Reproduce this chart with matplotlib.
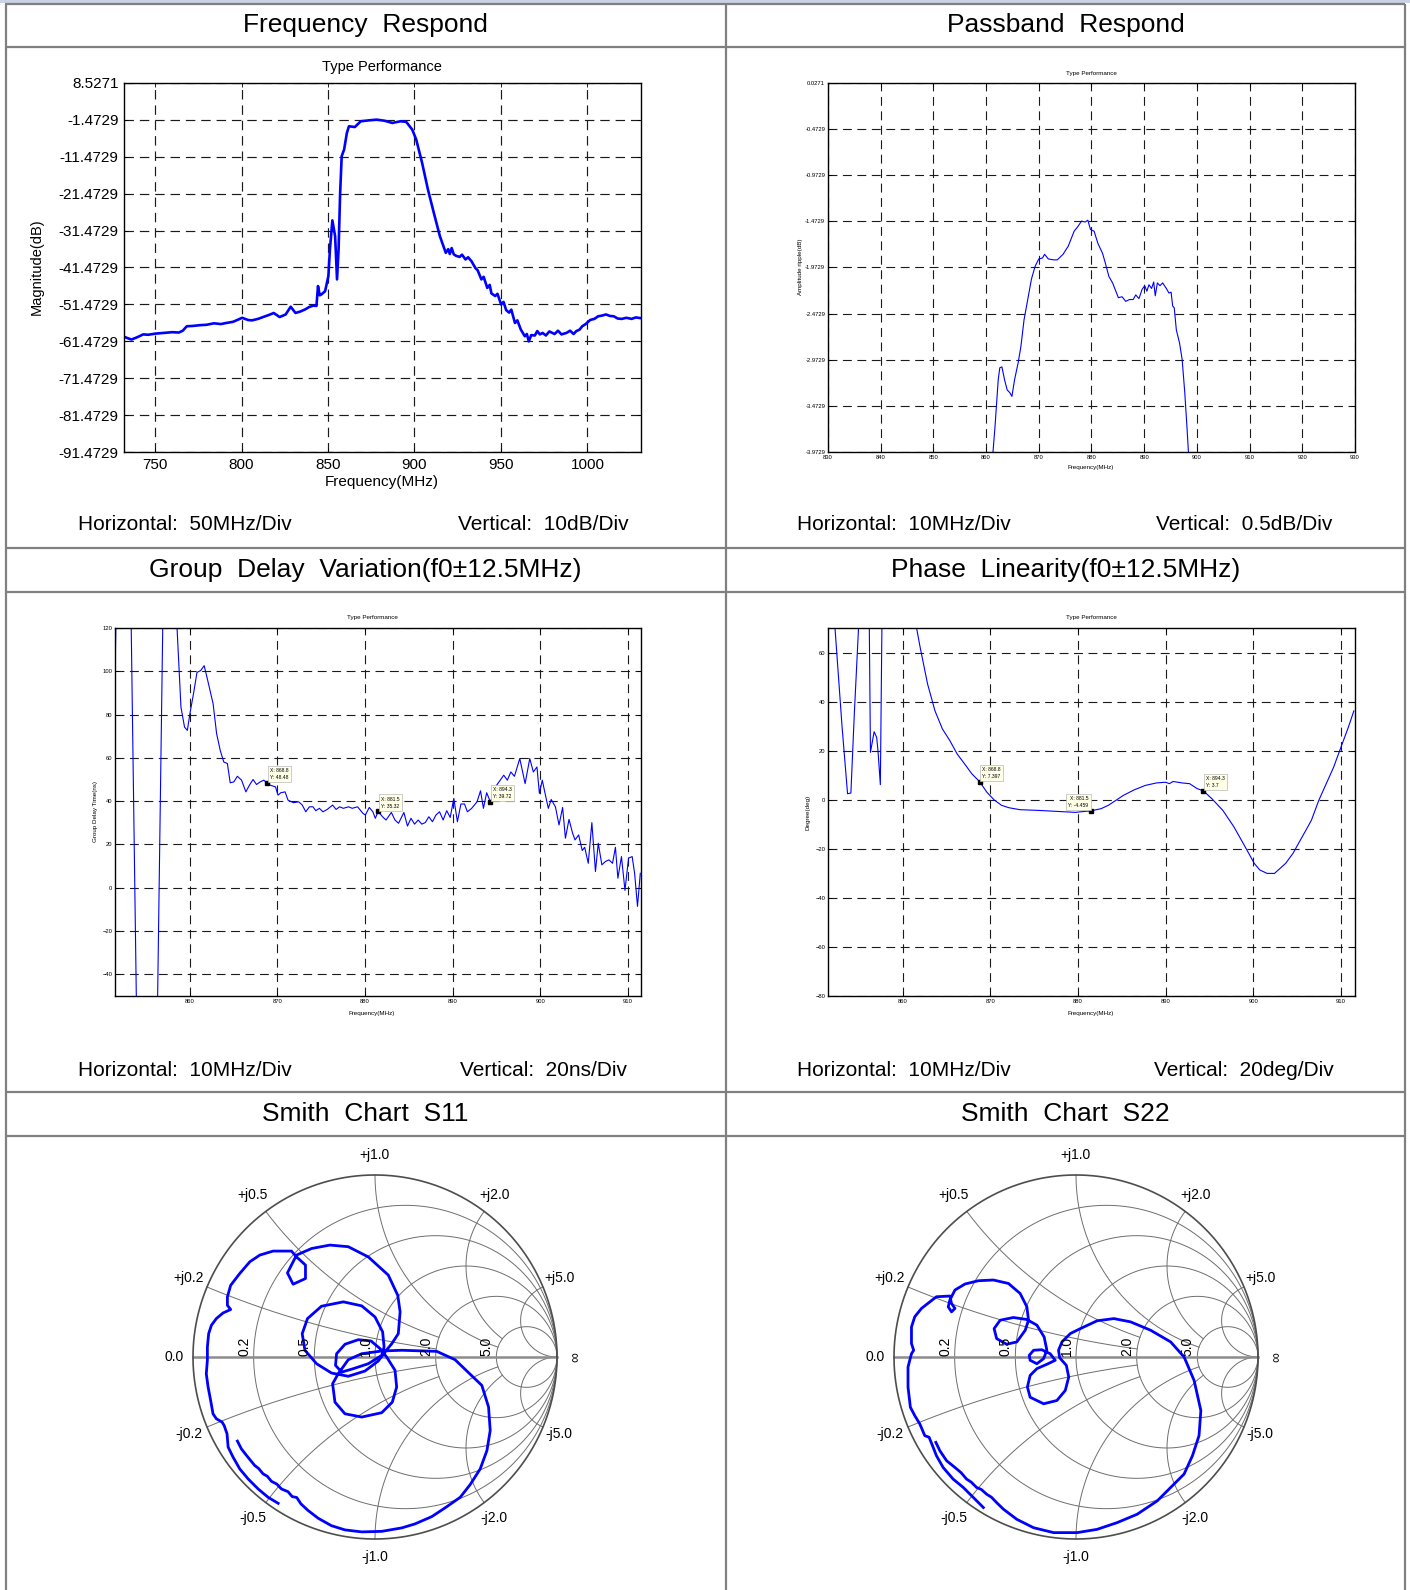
import numpy as np
import matplotlib
matplotlib.use("Agg")
import matplotlib.pyplot as plt

plt.rcParams['font.family'] = ['Liberation Sans', 'DejaVu Sans']

# ---------------- data ----------------
FREQ_RESP = [(731.7, -60.2), (736.3, -61.0), (740, -60.3), (743.1, -59.6), (746, -59.7), (750, -59.4),
             (755, -59.2), (760, -59.0), (763.7, -59.1), (766, -58.6), (768.3, -57.4), (772, -57.3),
             (776, -57.1), (779.7, -57.0), (784, -56.6), (788, -56.8), (791.2, -56.5), (795, -56.2),
             (798, -55.6), (800.3, -55.1), (803.7, -55.7), (806, -55.8), (809.5, -55.4), (813, -54.8),
             (816, -54.3), (818.6, -53.8), (822.0, -54.9), (825.5, -54.2), (828.4, -52.1), (831.2, -53.8),
             (834, -53.4), (836.9, -52.8), (839, -52.2), (841.5, -51.8), (843.3, -51.9), (844.2, -46.5),
             (845.2, -49.0), (846.1, -48.8), (848.3, -47.9), (850.2, -43.8), (851.1, -36.6), (852.5, -28.7),
             (854.1, -33.0), (855.2, -44.7), (856.1, -36.6), (857.0, -21.3), (857.9, -11.3), (859.3, -9.5),
             (860.9, -5.0), (862.1, -3.2), (865.5, -3.4), (868.9, -1.85), (873.5, -1.6), (878.1, -1.4),
             (882.7, -1.7), (887.2, -2.3), (891.8, -1.85), (895.2, -2.0), (898.7, -4.1), (901.0, -6.8),
             (904.4, -13.1), (907.8, -20.4), (911.2, -26.7), (914.7, -33.0), (918.1, -37.5), (919.5, -36.5),
             (920.4, -37.8), (921.5, -36.2), (922.7, -37.9), (924, -38.3), (926.1, -38.6), (927.5, -38.0),
             (929.5, -39.3), (931, -38.7), (933.0, -39.8), (935.2, -41.6), (936.5, -42.2), (938.7, -44.7),
             (940, -44.0), (942.1, -47.0), (943.5, -46.2), (944.5, -48.5), (946.7, -49.2), (948, -48.6),
             (950.1, -51.5), (951.5, -50.8), (953, -53.0), (954.7, -53.7), (956, -52.9), (958.1, -56.5),
             (959.5, -55.8), (961.5, -58.3), (963.8, -60.1), (965, -59.5), (966.1, -61.5), (967.5, -59.8),
             (969.6, -59.9), (971, -58.7), (972.5, -59.6), (974.1, -59.2), (976, -59.9), (978, -58.8),
             (981.0, -59.5), (983, -58.6), (985, -59.6), (987.9, -59.2), (990, -58.6), (992, -59.5),
             (993.6, -58.7), (995.5, -58.3), (997.0, -57.4), (999, -56.8), (1001.6, -55.7), (1004, -55.4),
             (1006.2, -54.7), (1008.5, -54.5), (1010.7, -54.2), (1013, -54.6), (1015.3, -54.7), (1017.5, -55.3),
             (1019.9, -55.4), (1022.5, -55.1), (1025.6, -55.4), (1028, -55.0), (1030.8, -55.2)]

PASSBAND = [(861.2, -4.05), (861.7, -3.69), (862.3, -3.19), (862.6, -3.06), (863.0, -3.05), (863.5, -3.19),
            (864.0, -3.30), (864.5, -3.33), (864.9, -3.37), (865.4, -3.19), (866.1, -3.00), (866.6, -2.83),
            (867.2, -2.54), (867.9, -2.32), (868.6, -2.10), (869.3, -1.96), (870.0, -1.88), (870.7, -1.87),
            (871.1, -1.83), (871.8, -1.88), (872.8, -1.89), (873.5, -1.89), (874.6, -1.83), (875.6, -1.74),
            (876.7, -1.58), (877.4, -1.53), (878.1, -1.47), (878.8, -1.48), (879.3, -1.46), (879.8, -1.56),
            (880.5, -1.58), (881.2, -1.71), (882.1, -1.82), (882.6, -1.92), (883.3, -2.07), (884.0, -2.14),
            (885.1, -2.30), (885.8, -2.29), (886.5, -2.34), (887.2, -2.32), (887.9, -2.32), (888.4, -2.27),
            (889.0, -2.31), (889.6, -2.21), (890.1, -2.17), (890.5, -2.23), (890.9, -2.16), (891.4, -2.20),
            (891.8, -2.13), (892.1, -2.28), (892.5, -2.14), (893.0, -2.17), (893.5, -2.14), (894.2, -2.20),
            (894.7, -2.25), (895.1, -2.24), (895.4, -2.39), (895.7, -2.41), (896.1, -2.65), (896.7, -2.79),
            (897.2, -2.97), (897.7, -3.33), (898.1, -3.69), (898.4, -3.98), (898.6, -4.16)]

GROUP_DELAY = [(851.45, 96.0), (851.6, 135), (853.25, 135), (853.9, -55), (856.3, -55), (856.95, 135),
               (858.35, 135), (858.98, 83.4), (859.39, 74.2), (859.71, 72.7), (860.0, 80.4), (860.41, 89.6),
               (860.81, 99.5), (861.22, 100.3), (861.63, 102.6), (862.04, 95.7), (862.65, 85.0), (863.05, 71.2),
               (863.46, 63.5), (863.87, 58.1), (864.28, 57.4), (864.60, 48.5), (865.01, 48.9), (865.42, 51.5),
               (865.90, 49.7), (866.39, 44.3), (866.80, 47.4), (867.21, 50.0), (867.61, 47.7), (868.02, 48.9),
               (868.43, 49.7), (868.8, 48.48), (869.16, 47.4), (869.77, 46.6), (870.06, 42.8), (870.38, 43.9),
               (870.87, 44.3), (871.20, 40.5), (871.81, 39.3), (872.42, 39.7), (872.83, 38.2), (873.23, 35.1),
               (873.64, 37.4), (874.05, 37.4), (874.37, 35.6), (874.78, 36.7), (875.19, 35.1), (875.68, 36.2),
               (876.29, 38.2), (876.69, 36.2), (877.10, 37.4), (877.51, 36.7), (878.12, 37.4), (878.53, 36.7),
               (879.14, 37.4), (879.75, 34.4), (880.03, 33.6), (880.48, 37.1), (880.89, 35.1), (881.17, 32.1),
               (881.5, 35.32), (881.99, 32.8), (882.39, 31.3), (883.00, 34.8), (883.41, 31.3), (883.82, 29.8),
               (884.43, 34.8), (884.84, 28.5), (885.24, 32.1), (885.65, 29.4), (886.06, 31.3), (886.47, 29.4),
               (886.87, 30.1), (887.28, 32.8), (887.69, 30.5), (888.09, 33.6), (888.50, 35.1), (888.91, 31.3),
               (889.32, 35.6), (889.72, 32.5), (890.13, 41.3), (890.54, 30.5), (890.94, 38.7), (891.35, 38.7),
               (891.68, 35.1), (892.17, 36.7), (892.78, 39.7), (893.18, 44.8), (893.51, 36.7), (893.88, 43.9),
               (894.3, 39.72), (894.61, 42.0), (895.02, 47.4), (895.42, 49.7), (895.83, 52.0), (896.24, 49.7),
               (896.64, 53.5), (897.05, 51.5), (897.66, 59.7), (898.27, 48.1), (898.80, 59.7), (899.21, 53.5),
               (899.62, 55.8), (899.90, 43.6), (900.23, 49.7), (900.51, 44.3), (900.92, 36.7), (901.25, 40.8),
               (901.73, 37.4), (902.14, 29.0), (902.55, 37.1), (902.87, 22.9), (903.28, 31.6), (903.69, 25.2),
               (903.97, 22.1), (904.38, 24.4), (904.79, 17.2), (905.07, 18.7), (905.48, 11.3), (905.89, 30.1),
               (906.30, 7.5), (906.62, 20.6), (907.03, 10.6), (907.43, 12.1), (907.84, 12.9), (908.25, 11.3),
               (908.58, 18.7), (908.86, 4.4), (909.27, 14.4), (909.67, -1.2), (910.08, 13.7), (910.49, 14.4),
               (910.77, 6.7), (911.10, -8.6), (911.42, 6.7)]

PHASE = [(852.2, 75), (853.1, 30), (853.73, 2.5), (854.11, 2.8), (854.5, 35), (855.05, 75), (856.2, 75),
         (856.34, 19.4), (856.76, 27.8), (857.05, 25.5), (857.2, 20.0), (857.47, 6.2), (857.66, 75), (861.5, 75),
         (861.60, 70.1), (862.02, 62.0), (862.86, 47.2), (863.70, 36.3), (864.55, 28.9), (865.39, 24.2),
         (866.23, 18.7), (867.07, 14.7), (867.91, 10.6), (868.8, 7.397), (869.60, 3.2), (870.44, 0.0),
         (871.28, -2.2), (872.12, -3.2), (873.38, -4.0), (875.49, -4.3), (877.59, -4.7), (879.70, -5.1),
         (881.5, -4.459), (882.64, -3.6), (883.48, -2.2), (884.33, -0.2), (885.17, 1.8), (886.43, 4.1),
         (887.69, 5.9), (888.96, 6.9), (890.01, 7.2), (890.43, 6.6), (890.85, 7.5), (891.90, 6.9), (892.74, 6.6),
         (893.59, 4.6), (894.3, 3.7), (895.27, 0.5), (896.53, -4.3), (897.79, -11.0), (898.64, -16.4),
         (899.48, -21.8), (900.11, -25.9), (900.74, -28.6), (901.58, -30.0), (902.42, -30.0), (902.85, -28.6),
         (903.69, -25.9), (904.53, -21.8), (905.37, -16.4), (906.00, -12.4), (906.63, -8.3), (907.47, -0.2),
         (908.32, 6.6), (909.16, 13.3), (910.00, 21.5), (910.84, 29.6), (911.47, 36.3)]

GD_TIPS = [(868.8, 48.48, "X: 868.8\nY: 48.48"), (881.5, 35.32, "X: 881.5\nY: 35.32"),
           (894.3, 39.72, "X: 894.3\nY: 39.72")]
PH_TIPS = [(868.8, 7.397, "X: 868.8\nY: 7.397"), (881.5, -4.459, "X: 881.5\nY: -4.459"),
           (894.3, 3.7, "X: 894.3\nY: 3.7")]

S11 = [(-0.532, -0.804), (-0.587, -0.771), (-0.642, -0.725), (-0.697, -0.670), (-0.743, -0.615),
       (-0.780, -0.550), (-0.807, -0.495), (-0.813, -0.422), (-0.829, -0.376), (-0.840, -0.358),
       (-0.872, -0.339), (-0.890, -0.312), (-0.903, -0.239), (-0.917, -0.165), (-0.927, -0.092),
       (-0.921, -0.018), (-0.921, 0.055), (-0.914, 0.128), (-0.899, 0.174), (-0.872, 0.211),
       (-0.835, 0.242), (-0.793, 0.261), (-0.811, 0.284), (-0.811, 0.330), (-0.793, 0.394),
       (-0.743, 0.459), (-0.688, 0.523), (-0.633, 0.560), (-0.560, 0.582), (-0.459, 0.582),
       (-0.431, 0.550), (-0.382, 0.505), (-0.382, 0.431), (-0.450, 0.400), (-0.481, 0.462),
       (-0.450, 0.523), (-0.431, 0.560), (-0.349, 0.596), (-0.248, 0.615), (-0.147, 0.606),
       (-0.037, 0.550), (0.073, 0.450), (0.125, 0.339), (0.138, 0.248), (0.128, 0.128),
       (0.092, 0.073), (0.059, 0.033), (0.018, -0.022), (-0.055, -0.077), (-0.147, -0.106),
       (-0.239, -0.088), (-0.321, -0.037), (-0.385, 0.037), (-0.400, 0.128), (-0.371, 0.211),
       (-0.294, 0.279), (-0.174, 0.303), (-0.073, 0.281), (0.0, 0.220), (0.042, 0.138),
       (0.050, 0.055), (0.037, 0.009), (-0.037, -0.037), (-0.119, -0.064), (-0.183, -0.083),
       (-0.217, -0.046), (-0.211, 0.018), (-0.165, 0.070), (-0.092, 0.095), (-0.022, 0.088),
       (0.028, 0.046), (0.064, 0.0), (0.110, -0.073), (0.119, -0.165), (0.095, -0.248),
       (0.037, -0.306), (-0.073, -0.330), (-0.165, -0.312), (-0.220, -0.248), (-0.233, -0.147),
       (-0.202, -0.092), (-0.147, -0.015), (-0.073, 0.018), (0.037, 0.033), (0.147, 0.037),
       (0.339, 0.031), (0.440, -0.015), (0.514, -0.086), (0.587, -0.156), (0.624, -0.275),
       (0.633, -0.404), (0.615, -0.514), (0.578, -0.615), (0.523, -0.701), (0.468, -0.771),
       (0.385, -0.829), (0.312, -0.877), (0.220, -0.917), (0.147, -0.939), (0.037, -0.958),
       (-0.073, -0.961), (-0.165, -0.950), (-0.239, -0.927), (-0.312, -0.886), (-0.367, -0.844),
       (-0.407, -0.807), (-0.430, -0.772), (-0.455, -0.767), (-0.478, -0.740), (-0.514, -0.725),
       (-0.540, -0.698), (-0.569, -0.683), (-0.592, -0.655), (-0.615, -0.642), (-0.640, -0.612),
       (-0.661, -0.596), (-0.701, -0.547), (-0.734, -0.505), (-0.756, -0.462)]

S22 = [(-0.509, -0.827), (-0.564, -0.772), (-0.619, -0.717), (-0.675, -0.671), (-0.730, -0.607),
       (-0.767, -0.542), (-0.785, -0.496), (-0.807, -0.441), (-0.831, -0.432), (-0.858, -0.368),
       (-0.886, -0.322), (-0.910, -0.276), (-0.923, -0.165), (-0.923, -0.055), (-0.904, 0.018),
       (-0.892, 0.037), (-0.904, 0.074), (-0.904, 0.165), (-0.886, 0.221), (-0.849, 0.267),
       (-0.767, 0.331), (-0.693, 0.335), (-0.684, 0.294), (-0.665, 0.267), (-0.684, 0.248),
       (-0.702, 0.276), (-0.693, 0.313), (-0.665, 0.368), (-0.610, 0.401), (-0.537, 0.419),
       (-0.454, 0.423), (-0.371, 0.404), (-0.307, 0.349), (-0.270, 0.276), (-0.261, 0.202),
       (-0.279, 0.147), (-0.325, 0.083), (-0.381, 0.070), (-0.436, 0.101), (-0.450, 0.156),
       (-0.417, 0.202), (-0.344, 0.217), (-0.270, 0.206), (-0.215, 0.175), (-0.175, 0.110),
       (-0.160, 0.037), (-0.178, -0.009), (-0.215, -0.037), (-0.252, -0.018), (-0.257, 0.009),
       (-0.233, 0.037), (-0.188, 0.040), (-0.142, 0.018), (-0.114, -0.018), (-0.160, -0.040),
       (-0.215, -0.064), (-0.252, -0.101), (-0.267, -0.165), (-0.252, -0.221), (-0.178, -0.257),
       (-0.105, -0.239), (-0.059, -0.184), (-0.040, -0.110), (-0.053, -0.046), (-0.090, -0.004),
       (-0.096, 0.037), (-0.077, 0.083), (-0.031, 0.129), (0.024, 0.156), (0.116, 0.199),
       (0.208, 0.211), (0.300, 0.193), (0.410, 0.147), (0.520, 0.083), (0.594, 0.0),
       (0.649, -0.129), (0.686, -0.294), (0.676, -0.432), (0.640, -0.542), (0.594, -0.643),
       (0.520, -0.717), (0.447, -0.790), (0.336, -0.864), (0.226, -0.910), (0.116, -0.947),
       (0.006, -0.965), (-0.123, -0.965), (-0.233, -0.938), (-0.325, -0.892), (-0.399, -0.836),
       (-0.436, -0.800), (-0.465, -0.770), (-0.491, -0.754), (-0.520, -0.728), (-0.546, -0.717),
       (-0.575, -0.688), (-0.601, -0.671), (-0.632, -0.635), (-0.665, -0.607), (-0.711, -0.570),
       (-0.748, -0.515), (-0.770, -0.469)]

HEADERS = ["Frequency  Respond", "Passband  Respond",
           "Group  Delay  Variation(f0\u00b112.5MHz)", "Phase  Linearity(f0\u00b112.5MHz)",
           "Smith  Chart  S11", "Smith  Chart  S22"]
FOOTERS = [("Horizontal:  50MHz/Div", "Vertical:  10dB/Div"),
           ("Horizontal:  10MHz/Div", "Vertical:  0.5dB/Div"),
           ("Horizontal:  10MHz/Div", "Vertical:  20ns/Div"),
           ("Horizontal:  10MHz/Div", "Vertical:  20deg/Div")]
SMITH_R = [0.2, 0.5, 1.0, 2.0, 5.0]
SMITH_X = [0.2, 0.5, 1.0, 2.0, 5.0]
SMITH_X_RMAX = [2.0, 2.0, 5.0, 5.0, 1e4]   # where each reactance arc stops

# ---------------- layout helpers ----------------
W, H = 1410, 1590
fig = plt.figure(figsize=(W / 100, H / 100), dpi=100)
BLUE = '#0000ff'


def px_axes(l, t, r, b):
    return fig.add_axes([l / W, 1 - b / H, (r - l) / W, (b - t) / H])


def ftext(x, y, s, **kw):
    return fig.text(x / W, 1 - y / H, s, **kw)


def style_rect(ax, fs, pad, dash_lw):
    ax.grid(True, color='#1a1a1a', linestyle=(0, (8, 5)), lw=dash_lw)
    ax.set_axisbelow(True)
    ax.tick_params(direction='in', length=3, width=0.6, labelsize=fs, pad=pad,
                   top=True, right=True)
    for sp in ax.spines.values():
        sp.set_linewidth(1.0)
        sp.set_color('black')


# ---------------- panel 1: Frequency Respond ----------------
ax = px_axes(124, 83, 641, 452)
f, v = zip(*FREQ_RESP)
ax.plot(f, v, color=BLUE, lw=1.9)
ax.set_xlim(732, 1031)
ax.set_ylim(-91.4729, 8.5271)
yt = [-91.4729 + 10 * k for k in range(11)]
ax.set_yticks(yt)
ax.set_yticklabels(['%.4f' % t for t in yt])
ax.set_xticks([750, 800, 850, 900, 950, 1000])
style_rect(ax, 11, 4, 0.85)
ftext(382, 67, 'Type Performance', fontsize=10.5, ha='center', va='center')
ftext(382, 482, 'Frequency(MHz)', fontsize=11, ha='center', va='center')
ftext(37, 267, 'Magnitude(dB)', fontsize=10.5, ha='center', va='center', rotation=90)

# ---------------- panel 2: Passband ----------------
ax = px_axes(828, 83, 1355, 452)
f, v = zip(*PASSBAND)
ax.plot(f, v, color=BLUE, lw=0.8)
ax.set_xlim(830, 930)
ax.set_ylim(-3.9729, 0.0271)
yt = [-3.9729 + 0.5 * k for k in range(9)]
ax.set_yticks(yt)
ax.set_yticklabels(['%.4f' % t for t in yt])
ax.set_xticks(range(830, 931, 10))
style_rect(ax, 4.2, 2, 0.8)
ftext(1091, 74, 'Type Performance', fontsize=4.5, ha='center', va='center')
ftext(1091, 468, 'Frequency(MHz)', fontsize=4.5, ha='center', va='center')
ftext(800, 267, 'Amplitude ripple(dB)', fontsize=4.5, ha='center', va='center', rotation=90)


def add_tips(ax, tips, left_idx=()):
    for i, (x, y, s) in enumerate(tips):
        ax.plot([x], [y], 's', color='black', ms=3, zorder=5)
        off = (-2, 2) if i in left_idx else (2, 2)
        ax.annotate(s, xy=(x, y), xytext=off, textcoords='offset points',
                    ha='right' if i in left_idx else 'left', va='bottom', fontsize=3.6,
                    linespacing=1.5,
                    bbox=dict(boxstyle='square,pad=0.45', fc='#ffffe8', ec='#b8b8b8', lw=0.5),
                    zorder=6)


# ---------------- panel 3: Group delay ----------------
ax = px_axes(115, 628, 641, 996)
f, v = zip(*GROUP_DELAY)
ax.plot(f, v, color=BLUE, lw=0.8)
ax.set_xlim(851.45, 911.5)
ax.set_ylim(-50, 120)
ax.set_yticks(range(-40, 121, 20))
ax.set_xticks(range(860, 911, 10))
style_rect(ax, 4.2, 2, 0.8)
add_tips(ax, GD_TIPS)
ftext(372, 617, 'Type Performance', fontsize=4.5, ha='center', va='center')
ftext(372, 1013, 'Frequency(MHz)', fontsize=4.5, ha='center', va='center')
ftext(96, 812, 'Group Delay Time(ns)', fontsize=4.5, ha='center', va='center', rotation=90)

# ---------------- panel 4: Phase ----------------
ax = px_axes(828, 628, 1355, 996)
f, v = zip(*PHASE)
ax.plot(f, v, color=BLUE, lw=0.8)
ax.set_xlim(851.5, 911.6)
ax.set_ylim(-80, 70.1)
ax.set_yticks(range(-80, 61, 20))
ax.set_xticks(range(860, 911, 10))
style_rect(ax, 4.2, 2, 0.8)
add_tips(ax, PH_TIPS, left_idx=(1,))
ftext(1091, 617, 'Type Performance', fontsize=4.5, ha='center', va='center')
ftext(1091, 1013, 'Frequency(MHz)', fontsize=4.5, ha='center', va='center')
ftext(808, 812, 'Degree(deg)', fontsize=4.5, ha='center', va='center', rotation=90)


# ---------------- Smith charts ----------------
def smith(cx, cy, R, trace):
    half = 1.25 * R
    ax = px_axes(cx - half, cy - half, cx + half, cy + half)
    ax.set_xlim(-1.25, 1.25)
    ax.set_ylim(-1.25, 1.25)
    ax.axis('off')
    gc, glw = '#6e6e6e', 0.7
    t = np.linspace(0, 2 * np.pi, 400)
    for r in SMITH_R:
        c, rad = r / (1 + r), 1 / (1 + r)
        ax.plot(c + rad * np.cos(t), rad * np.sin(t), color=gc, lw=glw)
    for x, rmax in zip(SMITH_X, SMITH_X_RMAX):
        rr = np.concatenate([[0.0], np.logspace(-3, np.log10(rmax), 600)])
        for sgn in (1, -1):
            z = rr + 1j * sgn * x
            g = (z - 1) / (z + 1)
            ax.plot(g.real, g.imag, color=gc, lw=glw)
    ax.plot([-1, 1], [0, 0], color='#8c8c8c', lw=1.8)
    ax.plot(np.cos(t), np.sin(t), color='#4d4d4d', lw=1.2)
    fs = 10
    for r in SMITH_R:
        ax.text((r - 1) / (r + 1) - 0.052, 0.006, '%.1f' % r, rotation=90, ha='center', va='bottom', fontsize=fs)
    ax.text(0, 1.11, '+j1.0', ha='center', va='center', fontsize=fs)
    ax.text(0, -1.10, '-j1.0', ha='center', va='center', fontsize=fs)
    ax.text(-1.105, 0.0, '0.0', ha='center', va='center', fontsize=fs)
    ax.text(1.10, 0.0, '\u221e', ha='center', va='center', fontsize=fs, rotation=90)
    ax.text(-0.67, 0.89, '+j0.5', ha='center', va='center', fontsize=fs)
    ax.text(0.655, 0.89, '+j2.0', ha='center', va='center', fontsize=fs)
    ax.text(-1.024, 0.435, '+j0.2', ha='center', va='center', fontsize=fs)
    ax.text(1.013, 0.435, '+j5.0', ha='center', va='center', fontsize=fs)
    ax.text(-1.024, -0.425, '-j0.2', ha='center', va='center', fontsize=fs)
    ax.text(1.013, -0.425, '-j5.0', ha='center', va='center', fontsize=fs)
    ax.text(-0.67, -0.885, '-j0.5', ha='center', va='center', fontsize=fs)
    ax.text(0.655, -0.885, '-j2.0', ha='center', va='center', fontsize=fs)
    re, im = zip(*trace)
    ax.plot(re, im, color=BLUE, lw=2.0, solid_joinstyle='round')


smith(375, 1357, 182, S11)
smith(1076, 1357, 182, S22)

# ---------------- table overlay ----------------
ov = fig.add_axes([0, 0, 1, 1], zorder=20)
ov.set_xlim(0, W)
ov.set_ylim(H, 0)
ov.axis('off')
ov.patch.set_visible(False)
lc, llw = '#808080', 1.6
ov.fill_between([0, W], 0, 2.5, color='#c9d3e3', lw=0)
for y in (3.5, 47, 548, 592, 1092, 1136):
    ov.plot([5, 1405], [y, y], color=lc, lw=llw, solid_capstyle='butt')
for x in (5.5, 726, 1405):
    ov.plot([x, x], [3.5, H], color=lc, lw=llw, solid_capstyle='butt')

title_y = [25, 570, 1114]
col_cx = [365.5, 1065.5]
for i, s in enumerate(HEADERS):
    ftext(col_cx[i % 2], title_y[i // 2], s, fontsize=19, ha='center', va='center')

foot_y = [525, 525, 1070, 1070]
foot_x = [(78, 458), (797, 1156), (78, 460), (797, 1154)]
for i, (a, b) in enumerate(FOOTERS):
    ftext(foot_x[i][0], foot_y[i], a, fontsize=15, ha='left', va='center')
    ftext(foot_x[i][1], foot_y[i], b, fontsize=15, ha='left', va='center')

fig.savefig('out.png', dpi=100)
